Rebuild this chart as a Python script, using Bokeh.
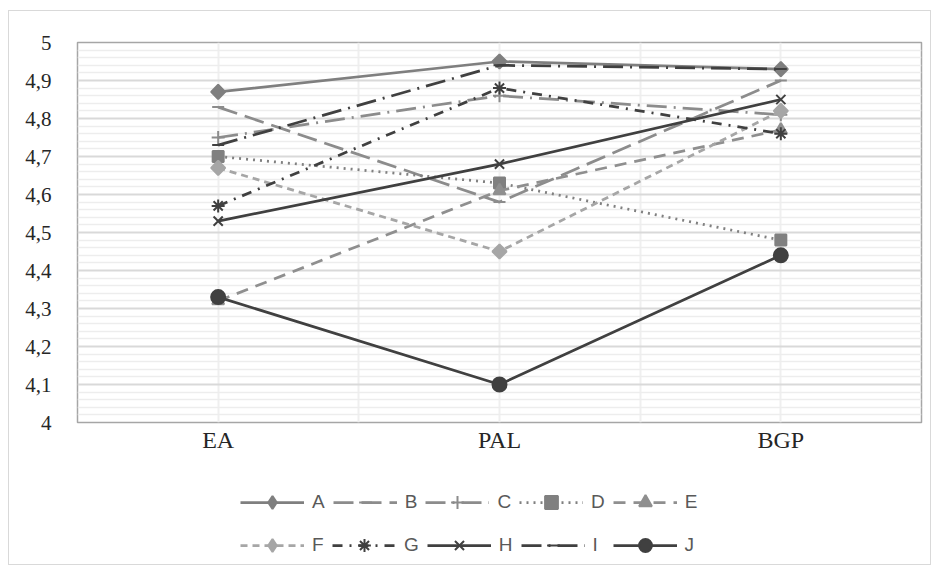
import numpy as np
from bokeh.plotting import figure
from bokeh.layouts import column
from bokeh.models import FixedTicker, Legend, LegendItem, Range1d
from bokeh.embed import file_html
from bokeh.resources import INLINE

# ---- data ----
categories = ["EA", "PAL", "BGP"]
series_names = ["A", "B", "C", "D", "E", "F", "G", "H", "I", "J"]
A = [4.87, 4.95, 4.93]
B = [4.83, 4.58, 4.90]
C = [4.75, 4.86, 4.81]
D = [4.70, 4.63, 4.48]
E = [4.32, 4.61, 4.77]
F = [4.67, 4.45, 4.82]
G = [4.57, 4.88, 4.76]
H = [4.53, 4.68, 4.85]
I = [4.73, 4.94, 4.93]
J = [4.33, 4.10, 4.44]
y_ticks = [4.0, 4.1, 4.2, 4.3, 4.4, 4.5, 4.6, 4.7, 4.8, 4.9, 5.0]
y_tick_labels = ["4", "4,1", "4,2", "4,3", "4,4", "4,5", "4,6", "4,7", "4,8", "4,9", "5"]

values = {"A": A, "B": B, "C": C, "D": D, "E": E, "F": F, "G": G, "H": H, "I": I, "J": J}

# ---- styles ----
styles = {
    "A": dict(color="#7f7f7f", dash="solid", marker="square", size=10, angle=np.pi / 4, lmarker="diamond"),
    "B": dict(color="#8c8c8c", dash="20 8", marker="dash", size=12, angle=0, lmarker="dash"),
    "C": dict(color="#8c8c8c", dash="20 7 2 7", marker="cross", size=13, angle=0, lmarker="cross"),
    "D": dict(color="#808080", dash="2 5", marker="square", size=11, angle=0, lmarker="square"),
    "E": dict(color="#8f8f8f", dash="12 8", marker="triangle", size=12, angle=0, lmarker="triangle"),
    "F": dict(color="#a6a6a6", dash="7 5", marker="square", size=10, angle=np.pi / 4, lmarker="diamond"),
    "G": dict(color="#404040", dash="10 7 2 7", marker="asterisk", size=13, angle=0, lmarker="asterisk"),
    "H": dict(color="#404040", dash="solid", marker="x", size=13, angle=0, lmarker="x"),
    "I": dict(color="#404040", dash="20 7 2 7", marker="dash", size=12, angle=0, lmarker="dash"),
    "J": dict(color="#404040", dash="solid", marker="circle", size=14, angle=0, lmarker="circle"),
}

x = [i + 0.5 for i in range(len(categories))]

p = figure(width=921, height=459, output_backend="svg", toolbar_location=None,
           x_range=Range1d(0, len(categories)), y_range=Range1d(4.0, 5.0),
           min_border_left=68, min_border_right=9, min_border_top=31, min_border_bottom=48)
p.background_fill_color = "white"
p.border_fill_color = "white"
p.outline_line_color = "#a6a6a6"
p.outline_line_width = 1.5

# grids
minor = [round(4.0 + 0.02 * k, 2) for k in range(51) if k % 5 != 0]
p.ygrid.ticker = FixedTicker(ticks=y_ticks, minor_ticks=minor)
p.ygrid.grid_line_color = "#d9d9d9"
p.ygrid.grid_line_width = 2
p.ygrid.minor_grid_line_color = "#ededed"
p.ygrid.minor_grid_line_width = 1.5
p.xgrid.ticker = FixedTicker(ticks=[0.5, 1.0, 1.5, 2.0, 2.5])
p.xgrid.grid_line_color = "#efefef"
p.xgrid.grid_line_width = 2

# axes
p.yaxis.ticker = FixedTicker(ticks=y_ticks)
p.yaxis.major_label_overrides = {t: l for t, l in zip(y_ticks, y_tick_labels)}
p.xaxis.ticker = FixedTicker(ticks=x)
p.xaxis.major_label_overrides = {xv: c for xv, c in zip(x, categories)}
for ax in (p.xaxis, p.yaxis):
    ax.axis_line_color = None
    ax.major_tick_line_color = None
    ax.minor_tick_line_color = None
    ax.major_label_text_font = "Liberation Serif"
    ax.major_label_text_color = "#262626"
p.yaxis.major_label_text_font_size = "21px"
p.xaxis.major_label_text_font_size = "24px"
p.yaxis.major_label_standoff = 20
p.xaxis.major_label_standoff = -2

# legend figure: style copies of the series, kept outside its visible range
pl = figure(width=921, height=94, output_backend="svg", toolbar_location=None,
            x_axis_type=None, y_axis_type=None, x_range=Range1d(100, 101), y_range=Range1d(100, 101),
            min_border_left=0, min_border_right=0, min_border_top=0, min_border_bottom=0)
pl.outline_line_color = None
pl.background_fill_color = "white"
pl.border_fill_color = "white"

items = []
for name in series_names:
    st = styles[name]
    ys = values[name]
    p.line(x, ys, line_color=st["color"], line_width=2.75, line_dash=st["dash"])
    p.scatter(x, ys, marker=st["marker"], size=st["size"], angle=st["angle"],
              fill_color=st["color"], line_color=st["color"], line_width=2)
    l1 = pl.line(x, ys, line_color=st["color"], line_width=2.75, line_dash=st["dash"])
    l2 = pl.scatter(x, ys, marker=st["lmarker"], size=st["size"],
                    fill_color=st["color"], line_color=st["color"], line_width=2)
    items.append(LegendItem(label=name, renderers=[l1, l2]))

half = len(items) // 2
for row_items, ypos in ((items[:half], 46), (items[half:], 3)):
    leg = Legend(items=row_items, orientation="horizontal",
                 location=(163, ypos), padding=0, margin=0, spacing=8,
                 glyph_width=64, glyph_height=32, label_height=32, label_width=12,
                 label_standoff=8,
                 label_text_font="Liberation Sans", label_text_font_size="19px",
                 label_text_color="#595959", border_line_color=None,
                 background_fill_alpha=0)
    pl.add_layout(leg)

layout = column(p, pl, spacing=0)
layout.styles = {"border": "1px solid #d9d9d9", "margin-left": "8px", "margin-top": "10px"}

open("out.html", "w").write(file_html(layout, INLINE))
